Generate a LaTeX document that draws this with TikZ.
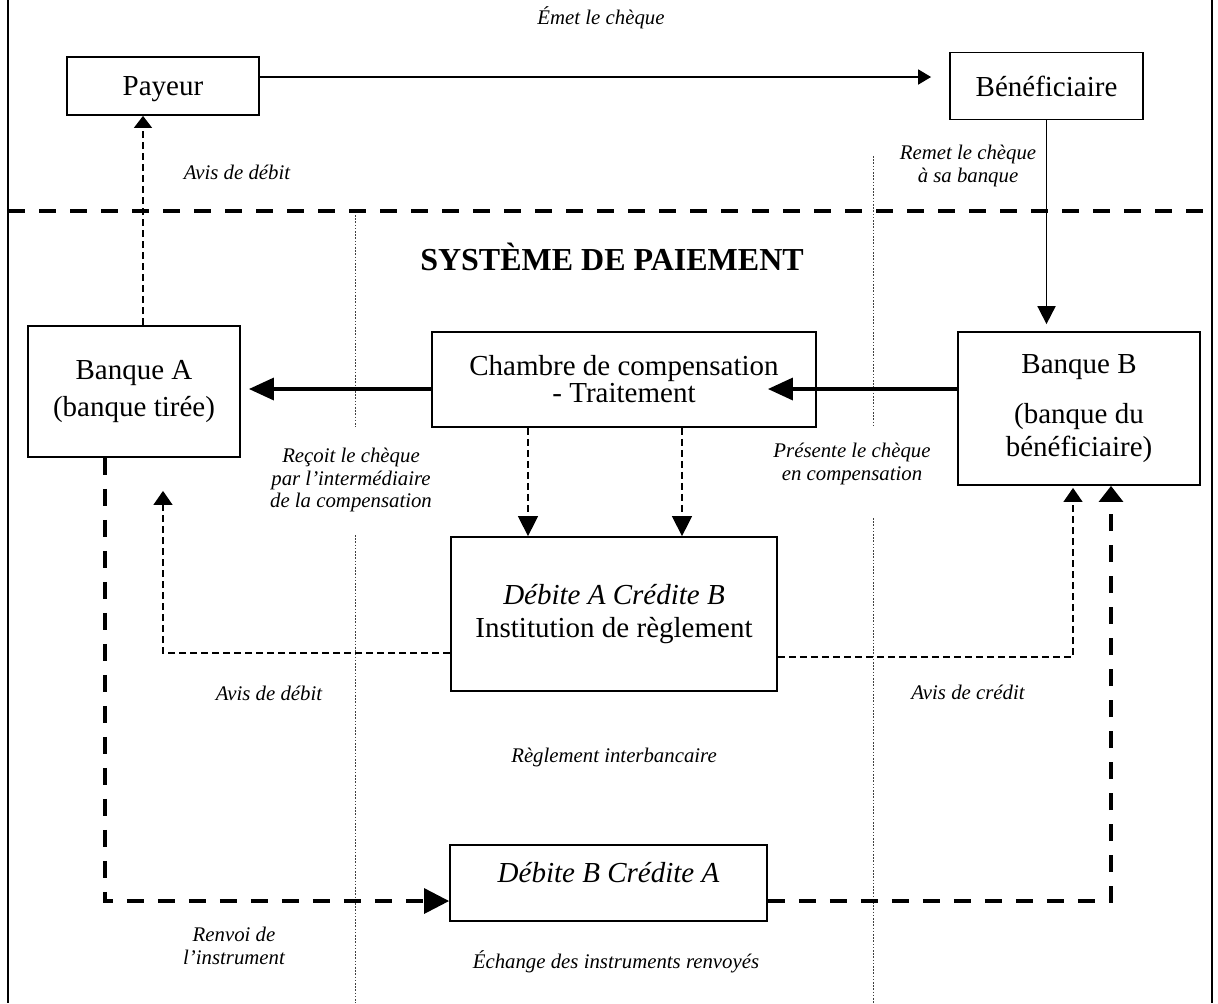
\documentclass[tikz,border=0pt]{standalone}
\usepackage{fontspec}
\setmainfont{Liberation Serif}
\usetikzlibrary{arrows.meta, positioning, calc}

\tikzset{
  box/.style={draw, line width=0.9pt, align=center, inner sep=2pt, font=\fontsize{14.5}{17}\selectfont},
  lbl/.style={align=center, inner sep=1pt, font=\fontsize{10.4}{11.3}\selectfont\itshape},
  flow/.style={line width=0.9pt, -{Triangle[length=6.5pt, width=7.5pt]}},
  bigflow/.style={line width=1.75pt, -{Triangle[length=12.5pt, width=11pt]}},
  notice/.style={line width=0.7pt, dash pattern=on 3.5pt off 2pt},
  instr/.style={line width=1.6pt, dash pattern=on 8.5pt off 7pt},
  divider/.style={line width=0.4pt, black!75, dash pattern=on 0.8pt off 0.8pt}
}

\begin{document}
\begin{tikzpicture}[x=0.5pt, y=-0.5pt]

\useasboundingbox (0,0) rectangle (1218,1003);

% Frame and separator
\draw[line width=1pt] (8,0) -- (8,1003) (1212,0) -- (1212,1003);
\draw[divider] (355,215) -- (355,427) (355,535) -- (355,1003);
\draw[divider] (873,156) -- (873,427) (873,518) -- (873,1003);
\draw[instr] (8,211) -- (1212,211);

% Title
\node[font=\fontsize{16}{19}\selectfont\bfseries] (title) at (612,257) {SYSTÈME DE PAIEMENT};

% Parties
\node[box, minimum width=96pt, minimum height=29pt, text depth=0.2pt] (payeur) at (163,86) {Payeur};
\node[box, minimum width=96.5pt, minimum height=33.5pt] (benef) at (1046.5,86) {Bénéficiaire};

% Banks
\node[box, minimum width=106pt, minimum height=65.5pt] (banqueA) at (134,391.5) {Banque A\\[1.5pt](banque tirée)};
\node[box, minimum width=121pt, minimum height=76.5pt] (banqueB) at (1079,408.5) {Banque B\\[8pt](banque du\\[-0.5pt]bénéficiaire)};

% Clearing house
\node[box, minimum width=192pt, minimum height=47.5pt] (chambre) at (624,379.5) {Chambre de compensation\\[-3.5pt]- Traitement};

% Settlement
\node[box, minimum width=163pt, minimum height=77pt] (institution) at (614,614) {\textit{Débite A Crédite B}\\[-0.5pt]Institution de règlement};

% Returned items
\node[box, minimum width=158.5pt, minimum height=38pt, text height=10pt, text depth=10.4pt] (debiteB) at (608.5,883) {\textit{Débite B Crédite A}};

% Labels
\node[lbl] (lblEmet) at (601,18) {Émet le chèque};
\node[lbl] (lblAvisPayeur) at (237,172) {Avis de débit};
\node[lbl] (lblRemet) at (968,166) {Remet le chèque\\à sa banque};
\node[lbl] (lblRecoit) at (351,480) {Reçoit le chèque\\par l’intermédiaire\\de la compensation};
\node[lbl] (lblPresente) at (852,464) {Présente le chèque\\en compensation};
\node[lbl] (lblAvisDebit) at (269,693) {Avis de débit};
\node[lbl] (lblAvisCredit) at (968,692) {Avis de crédit};
\node[lbl] (lblReglement) at (614,757) {Règlement interbancaire};
\node[lbl] (lblRenvoi) at (234,946) {Renvoi de\\l’instrument};
\node[lbl] (lblEchange) at (616,962) {Échange des instruments renvoyés};

% Cheque path
\draw[flow, shorten >=9pt] ([yshift=4.5pt]payeur.east) -- ([yshift=4.5pt]benef.west);
\draw[line width=0.9pt, -{Triangle[length=9pt, width=9pt]}, shorten >=3.5pt] (benef.south) -- (benef.south |- banqueB.north);
\draw[bigflow, shorten >=-24.5pt] ([yshift=9.75pt]banqueB.west) -- ([yshift=9.75pt]banqueB.west -| chambre.east);
\draw[bigflow, shorten >=4pt] ([yshift=-4.75pt]chambre.west) -- ([yshift=-4.75pt]chambre.west -| banqueA.east);

% Notices
\draw[notice, -{Triangle[length=6pt, width=9pt]}] ([xshift=4.5pt]banqueA.north) -- ([xshift=4.5pt]banqueA.north |- payeur.south);
\draw[notice, -{Triangle[length=10pt, width=10pt]}] ([xshift=-48pt]chambre.south) -- ([xshift=-48pt]chambre.south |- institution.north);
\draw[notice, -{Triangle[length=10pt, width=10pt]}] ([xshift=29pt]chambre.south) -- ([xshift=29pt]chambre.south |- institution.north);
\draw[notice, -{Triangle[length=7pt, width=9.5pt]}, shorten >=16.5pt] ([yshift=-19.5pt]institution.west) -| ([xshift=14.5pt]banqueA.south);
\draw[notice, -{Triangle[length=7pt, width=9.5pt]}, shorten >=1pt] ([yshift=-21.5pt]institution.east) -| ([xshift=-3pt]banqueB.south);

% Returned instruments
\draw[instr, -{Triangle[length=12.5pt, width=12.5pt]}] ([xshift=-14.5pt]banqueA.south) |- ([yshift=-9pt]debiteB.west);
\draw[instr, -{Triangle[length=8pt, width=12pt]}] ([yshift=-9pt]debiteB.east) -| ([xshift=16pt]banqueB.south);

\end{tikzpicture}
\end{document}
